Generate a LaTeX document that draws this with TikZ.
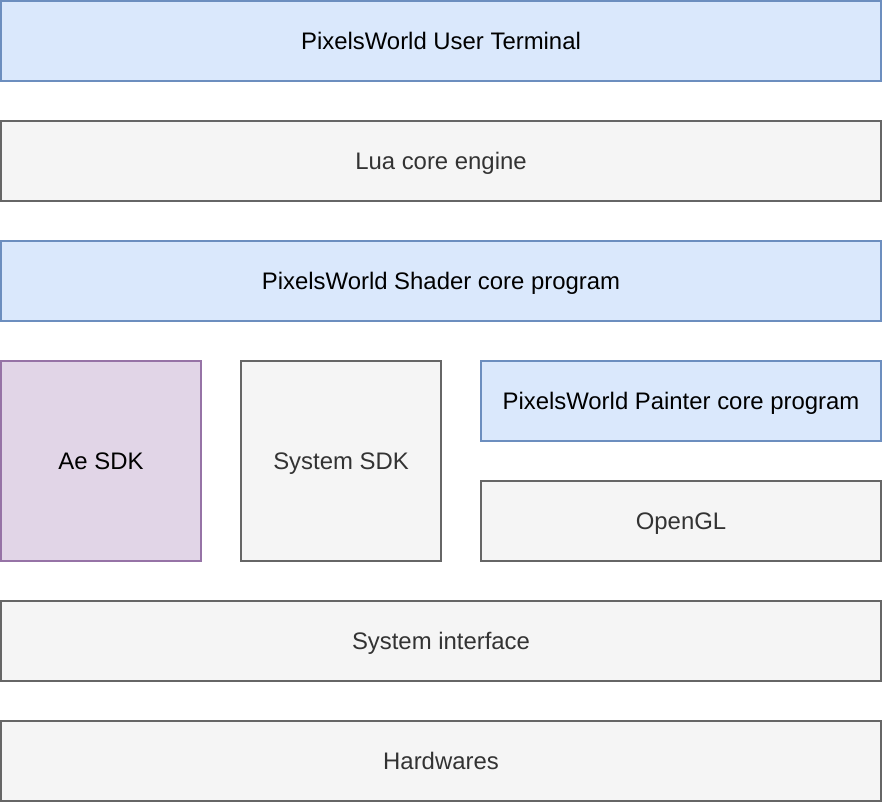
\documentclass[tikz,border=0pt]{standalone}
\usepackage{fontspec}
\setmainfont{Liberation Sans}
\definecolor{bluefill}{HTML}{DAE8FC}
\definecolor{bluedraw}{HTML}{6C8EBF}
\definecolor{grayfill}{HTML}{F5F5F5}
\definecolor{graydraw}{HTML}{666666}
\definecolor{graytext}{HTML}{333333}
\definecolor{purpfill}{HTML}{E1D5E7}
\definecolor{purpdraw}{HTML}{9673A6}
\begin{document}
\begin{tikzpicture}[x=1pt,y=-1pt,
  box/.style={rectangle,line width=1.8pt,inner sep=0pt,font=\fontsize{23.9}{28}\selectfont,text height=21.3pt,text depth=5.1pt},
  bluebox/.style={box,fill=bluefill,draw=bluedraw,text=black},
  graybox/.style={box,fill=grayfill,draw=graydraw,text=graytext},
  purpbox/.style={box,fill=purpfill,draw=purpdraw,text=black}]
\useasboundingbox (0,0) rectangle (882,802);
\node[bluebox,minimum width=880pt,minimum height=80pt] (user) at (441,41) {PixelsWorld User Terminal};
\node[graybox,minimum width=880pt,minimum height=80pt] (lua) at (441,161) {Lua core engine};
\node[bluebox,minimum width=880pt,minimum height=80pt] (shader) at (441,281) {PixelsWorld Shader core program};
\node[purpbox,minimum width=200pt,minimum height=200pt] (ae) at (101,461) {Ae SDK};
\node[graybox,minimum width=200pt,minimum height=200pt] (sys) at (341,461) {System SDK};
\node[bluebox,minimum width=400pt,minimum height=80pt] (painter) at (681,401) {PixelsWorld Painter core program};
\node[graybox,minimum width=400pt,minimum height=80pt] (gl) at (681,521) {OpenGL};
\node[graybox,minimum width=880pt,minimum height=80pt] (iface) at (441,641) {System interface};
\node[graybox,minimum width=880pt,minimum height=80pt] (hw) at (441,761) {Hardwares};
\end{tikzpicture}
\end{document}
